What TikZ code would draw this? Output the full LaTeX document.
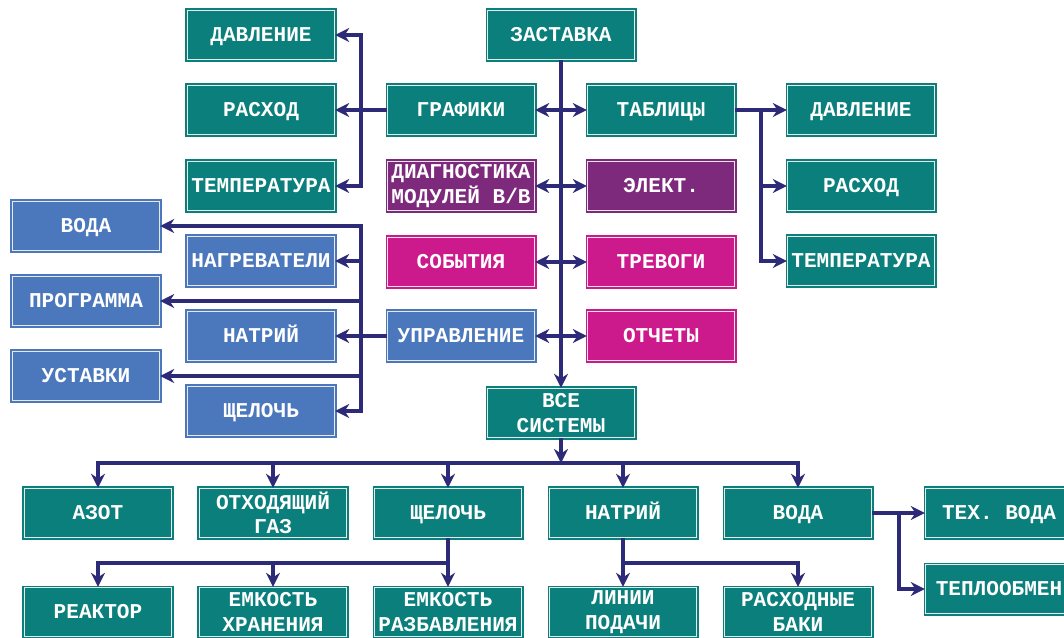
\documentclass[tikz,border=0pt]{standalone}
\usepackage{fontspec}
\newfontfamily\boxfont{Liberation Mono}
\usetikzlibrary{arrows.meta}
\definecolor{tealbox}{HTML}{0B7F7B}
\definecolor{bluebox}{HTML}{4B77BD}
\definecolor{purplebox}{HTML}{7D2A7C}
\definecolor{pinkbox}{HTML}{CC1A8C}
\definecolor{wirec}{HTML}{2D2B77}

\begin{document}
\begin{tikzpicture}[x=0.02cm,y=-0.02cm,
	box/.style={rectangle,minimum width=2.94cm,minimum height=0.98cm,inner sep=0pt,
		draw=#1,fill=#1,line width=0.8pt,double=white!82!gray,double distance=0.7pt,
		text=white,align=center,font=\boxfont\bfseries\fontsize{12}{14}\selectfont},
	box/.default=tealbox,
	oneline/.style={text height=7pt,text depth=0pt},
	>={Stealth[length=8pt,width=8pt]}]
	\useasboundingbox (0,0) rectangle (1064,637);

	\begin{scope}[every node/.style={box=tealbox,oneline}]
		\node (zast) at (561,35) {ЗАСТАВКА};
		\node (graf) at (461,110) {ГРАФИКИ};
		\node (tabl) at (661,110) {ТАБЛИЦЫ};
		\node (gdav) at (261,35) {ДАВЛЕНИЕ};
		\node (grasx) at (261,110) {РАСХОД};
		\node (gtemp) at (261,186) {ТЕМПЕРАТУРА};
		\node (tdav) at (861,110) {ДАВЛЕНИЕ};
		\node (trasx) at (861,186) {РАСХОД};
		\node (ttemp) at (861,261) {ТЕМПЕРАТУРА};
		\node (azot) at (98,513) {АЗОТ};
		\node (shch) at (448,513) {ЩЕЛОЧЬ};
		\node (natr) at (623,513) {НАТРИЙ};
		\node (voda) at (798,513) {ВОДА};
		\node (teh) at (999,513) {ТЕХ. ВОДА};
		\node (teplo) at (999,589) {ТЕПЛООБМЕН};
		\node (reakt) at (98,612) {РЕАКТОР};
	\end{scope}

	\begin{scope}[every node/.style={box=tealbox}]
		\node (all) at (561,413) {ВСЕ\\СИСТЕМЫ};
		\node (gaz) at (273,513) {ОТХОДЯЩИЙ\\ГАЗ};
		\node (emkh) at (273,612) {ЕМКОСТЬ\\ХРАНЕНИЯ};
		\node (emkr) at (448,612) {ЕМКОСТЬ\\РАЗБАВЛЕНИЯ};
		\node (lin) at (623,612) {ЛИНИИ\\ПОДАЧИ};
		\node (baki) at (798,612) {РАСХОДНЫЕ\\БАКИ};
	\end{scope}

	\begin{scope}[every node/.style={box=bluebox,oneline}]
		\node (upr) at (461,336) {УПРАВЛЕНИЕ};
		\node (uvoda) at (86,226) {ВОДА};
		\node (uprog) at (86,301) {ПРОГРАММА};
		\node (uust) at (86,376) {УСТАВКИ};
		\node (unagr) at (261,261) {НАГРЕВАТЕЛИ};
		\node (unatr) at (261,336) {НАТРИЙ};
		\node (ushch) at (261,411) {ЩЕЛОЧЬ};
	\end{scope}

	\begin{scope}[every node/.style={box=purplebox}]
		\node (diag) at (461,186) {ДИАГНОСТИКА\\МОДУЛЕЙ В/В};
		\node[oneline] (elekt) at (661,186) {ЭЛЕКТ.};
	\end{scope}

	\begin{scope}[every node/.style={box=pinkbox,oneline}]
		\node (sob) at (461,262) {СОБЫТИЯ};
		\node (trev) at (661,262) {ТРЕВОГИ};
		\node (otch) at (661,336) {ОТЧЕТЫ};
	\end{scope}

	% junction points
	\coordinate (gj) at (361,110);
	\coordinate (tj) at (761,110);
	\coordinate (uj) at (361,336);
	\coordinate (bj) at (561,463);
	\coordinate (sj) at (448,563);
	\coordinate (nj) at (623,563);
	\coordinate (vj) at (899,513);

	\begin{scope}[draw=wirec,line width=2pt]
		\draw [->] (zast) -- (all);
		\draw [<->] (graf) -- (tabl);
		\draw [<->] (diag) -- (elekt);
		\draw [<->] (sob) -- (trev);
		\draw [<->] (upr) -- (otch);

		\draw [->] (graf) -- (grasx);
		\draw [->] (gj) |- (gdav);
		\draw [->] (gj) |- (gtemp);

		\draw [->] (tabl) -- (tdav);
		\draw [->] (tj) |- (trasx);
		\draw [->] (tj) |- (ttemp);

		\draw [->] (upr) -- (unatr);
		\draw [->] (uj) |- (uvoda);
		\draw [->] (uj) |- (unagr);
		\draw [->] (uj) |- (uprog);
		\draw [->] (uj) |- (uust);
		\draw [->] (uj) |- (ushch);

		\draw [->] (all) -- (bj);
		\foreach \n in {azot,gaz,shch,natr,voda}
			\draw [->] (bj) -| (\n);

		\draw (shch) -- (sj);
		\foreach \n in {reakt,emkh,emkr}
			\draw [->] (sj) -| (\n);

		\draw (natr) -- (nj);
		\foreach \n in {lin,baki}
			\draw [->] (nj) -| (\n);

		\draw [->] (voda) -- (teh);
		\draw [->] (vj) |- (teplo);
	\end{scope}
\end{tikzpicture}
\end{document}
